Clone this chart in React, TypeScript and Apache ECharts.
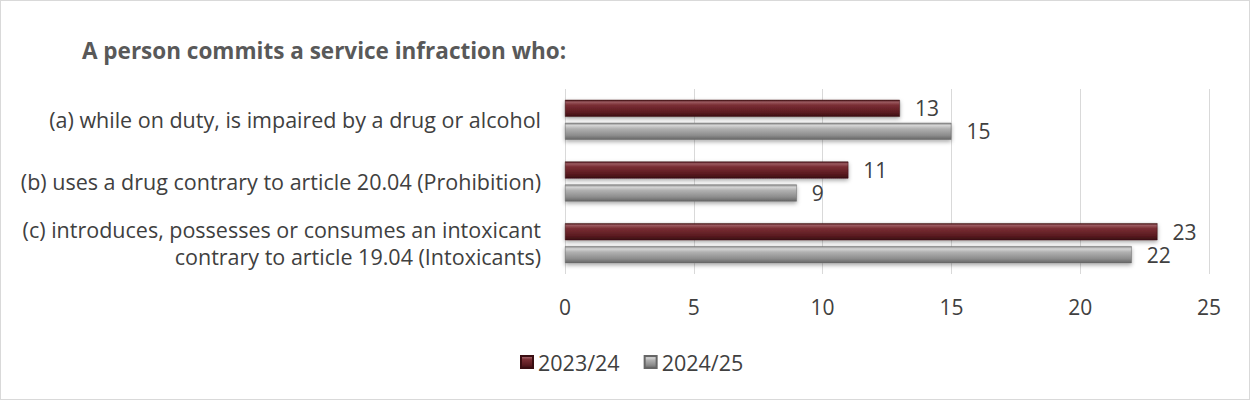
import React, { useEffect, useRef } from "react";
import * as echarts from "echarts";

const categories = [
  "(a) while on duty, is impaired by a drug or alcohol",
  "(b) uses a drug contrary to article 20.04 (Prohibition)",
  "(c) introduces, possesses or consumes an intoxicant\ncontrary to article 19.04 (Intoxicants)",
];
const series2023 = [13, 11, 23];
const series2024 = [15, 9, 22];
const seriesNames = ["2023/24", "2024/25"];

const FONT = "'Open Sans', 'Noto Sans', sans-serif";

const maroonGrad = new echarts.graphic.LinearGradient(0, 0, 0, 1, [
  { offset: 0, color: "#4a1418" },
  { offset: 0.12, color: "#9a5a60" },
  { offset: 0.3, color: "#7a2e34" },
  { offset: 0.75, color: "#5a1a20" },
  { offset: 1, color: "#3a0e12" },
]);
const grayGrad = new echarts.graphic.LinearGradient(0, 0, 0, 1, [
  { offset: 0, color: "#8a8a8a" },
  { offset: 0.15, color: "#d4d4d4" },
  { offset: 0.35, color: "#b0b0b0" },
  { offset: 0.75, color: "#8c8c8c" },
  { offset: 1, color: "#666666" },
]);

export default function App() {
  const ref = useRef<HTMLDivElement>(null);
  useEffect(() => {
    if (!ref.current) return;
    const chart = echarts.init(ref.current, null, { renderer: "svg" });
    const labelCommon = {
      show: true,
      position: "right" as const,
      distance: 15,
      color: "#404040",
      fontSize: 21,
      fontFamily: FONT,
    };
    chart.setOption({
      animation: false,
      backgroundColor: "#ffffff",
      title: {
        text: "A person commits a service infraction who:",
        left: 76,
        top: 33,
        textStyle: {
          fontSize: 22.5,
          fontWeight: "bold",
          color: "#595959",
          fontFamily: FONT,
        },
      },
      legend: {
        left: 514,
        top: 345,
        itemWidth: 12,
        itemHeight: 12,
        itemGap: 24,
        icon: "rect",
        textStyle: { fontSize: 21.5, color: "#404040", fontFamily: FONT },
        data: seriesNames,
      },
      grid: { left: 564, right: 40, top: 88, height: 185, containLabel: false },
      xAxis: {
        type: "value",
        min: 0,
        max: 25,
        interval: 5,
        axisLine: { show: false },
        axisTick: { show: false },
        splitLine: { show: true, lineStyle: { color: "#d9d9d9", width: 1 } },
        axisLabel: {
          color: "#404040",
          fontSize: 21,
          fontFamily: FONT,
          margin: 22,
        },
      },
      yAxis: {
        type: "category",
        inverse: true,
        data: categories,
        axisLine: { show: false },
        axisTick: { show: false },
        axisLabel: {
          color: "#404040",
          fontSize: 21.5,
          fontFamily: FONT,
          margin: 24,
          align: "right",
          lineHeight: 27,
        },
      },
      series: [
        {
          name: seriesNames[0],
          type: "bar",
          data: series2023,
          barWidth: 17,
          barGap: "35%",
          itemStyle: {
            color: maroonGrad,
            borderColor: "#3a0e12",
            borderWidth: 0.5,
            shadowBlur: 4,
            shadowColor: "rgba(0,0,0,0.35)",
            shadowOffsetY: 2,
          },
          label: labelCommon,
        },
        {
          name: seriesNames[1],
          type: "bar",
          data: series2024,
          barWidth: 17,
          itemStyle: {
            color: grayGrad,
            borderColor: "#666666",
            borderWidth: 0.5,
            shadowBlur: 4,
            shadowColor: "rgba(0,0,0,0.35)",
            shadowOffsetY: 2,
          },
          label: labelCommon,
        },
      ],
    });
    return () => chart.dispose();
  }, []);
  return (
    <div
      style={{
        position: "absolute",
        left: 0,
        top: 0,
        width: 1250,
        height: 400,
        boxSizing: "border-box",
        border: "1px solid #d9d9d9",
      }}
    >
      <div ref={ref} style={{ width: 1248, height: 398 }} />
    </div>
  );
}
